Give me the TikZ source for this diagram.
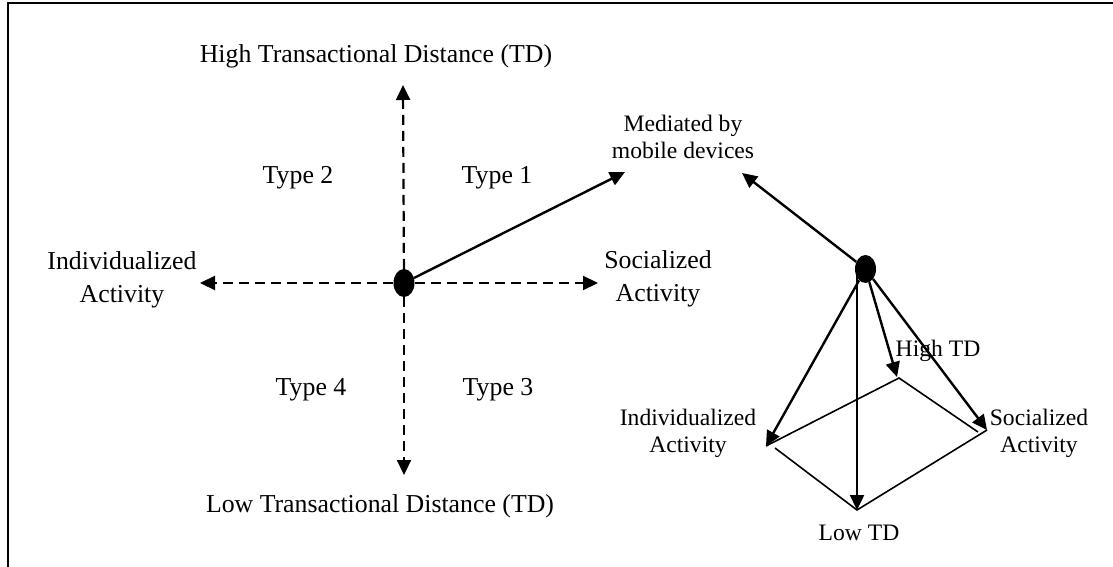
\documentclass[tikz,border=0pt]{standalone}
\usepackage{fontspec}
\setmainfont{Liberation Serif}
\usetikzlibrary{arrows.meta,shapes.geometric}
\begin{document}
\begin{tikzpicture}[x=1pt,y=-1pt,
  lbl/.style={anchor=base, inner sep=0pt, align=center, font=\fontsize{25.8}{33}\selectfont},
  small/.style={anchor=base, inner sep=0pt, align=center, font=\fontsize{23.6}{27}\selectfont},
  hub/.style={ellipse, fill=black, minimum width=21pt, minimum height=28pt, inner sep=0pt},
  axis/.style={line width=2.2pt, dash pattern=on 10pt off 6pt, -{Triangle[length=15pt,width=14pt]}},
  link/.style={line width=2.4pt, -{Triangle[length=15pt,width=14pt]}},
  edge/.style={line width=1.6pt}]
\useasboundingbox (0,0) rectangle (1113,567);
% open frame: top and left rules
\draw[line width=2pt] (8,567) -- (8,3) -- (1113,3);

% quadrant diagram (two-line labels are placed by their last baseline)
\node[lbl] (hi) at (376,63) {High Transactional Distance (TD)};
\node[lbl] (lo) at (380,512) {Low Transactional Distance (TD)};
\node[lbl] (t2) at (298,183) {Type 2};
\node[lbl] (t1) at (497,183) {Type 1};
\node[lbl] (t4) at (311,395) {Type 4};
\node[lbl] (t3) at (498,395) {Type 3};
\node[lbl] (ind) at (122,302) {Individualized\\Activity};
\node[lbl] (soc) at (658,301) {Socialized\\Activity};
\node[small, font=\fontsize{23.6}{26.5}\selectfont] (med) at (683,158) {Mediated by\\mobile devices};

\node[hub] (c) at (404,283) {};
\coordinate (up) at (403,85);
\coordinate (down) at (404,475);
\coordinate (left) at (200,283);
\coordinate (right) at (598,283);
\coordinate (m1) at (625,172);
\coordinate (m2) at (742,173);

\draw[axis] (c) -- (up);
\draw[axis] (c) -- (down);
\draw[axis] (c) -- (left);
\draw[axis] (c) -- (right);
\draw[link] (c) -- (m1);

% pyramid
\node[hub] (p) at (865.5,269) {};
\coordinate (vL) at (766,446);
\coordinate (vLb) at (775,448);
\coordinate (vB) at (899,378);
\coordinate (vBt) at (897,377);
\coordinate (vR) at (987,430);
\coordinate (vRb) at (978,432);
\coordinate (vF) at (857,510);

\draw[edge] (vL) -- (vB) -- (vRb);
\draw[edge] (vR) -- (vF) -- (vLb);

\draw[link] (p) -- (m2);
\draw[link] (p) -- (vL);
\draw[link] (vF |- p) -- (vF);
\draw[link] (p) -- (vBt);
\draw[link] (p) -- (vR);

\node[small] (htd) at (938,356) {High TD};
\node[small] (psoc) at (1039,452) {Socialized\\Activity};
\node[small] (pind) at (688,452) {Individualized\\Activity};
\node[small] (ltd) at (859,540) {Low TD};
\end{tikzpicture}
\end{document}
